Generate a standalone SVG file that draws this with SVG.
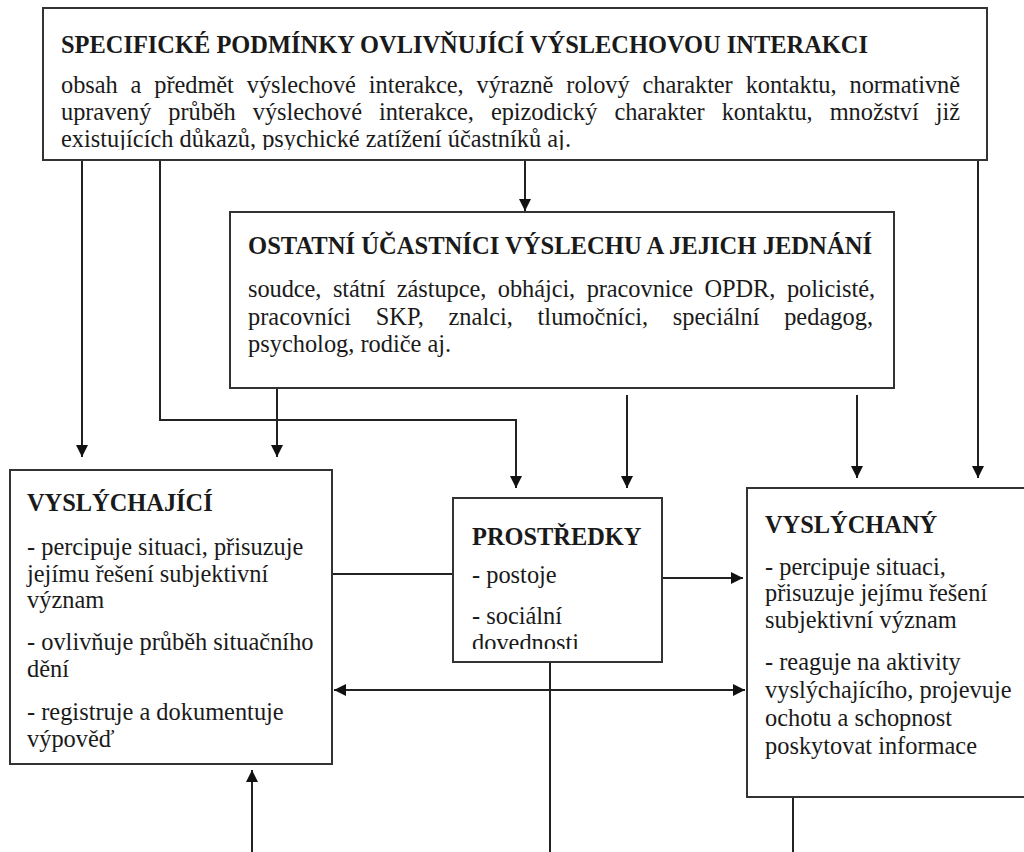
<svg xmlns="http://www.w3.org/2000/svg" width="1024" height="852" viewBox="0 0 1024 852">
<style>
.box{fill:#fff;stroke:#333;stroke-width:2}
.t{font-family:"Liberation Serif","Times New Roman",serif;font-size:24.4px;fill:#1a1a1a}
.b{font-weight:bold}
.c{fill:none;stroke:#222;stroke-width:2}
</style>
<defs>
<marker id="ah" markerUnits="userSpaceOnUse" markerWidth="12" markerHeight="14" viewBox="0 0 12 14" refX="12" refY="7" orient="auto-start-reverse">
<path d="M0,1 L12,7 L0,13 Z" fill="#111"/>
</marker>
<clipPath id="clipTop"><rect x="44" y="9" width="942" height="141"/></clipPath>
<clipPath id="clipPro"><rect x="454" y="499" width="207" height="150"/></clipPath>
</defs>
<rect width="1024" height="852" fill="#fff"/>

<g id="connectors">
<path class="c" d="M82,160 V457" marker-end="url(#ah)"/>
<path class="c" d="M160,160 V420 H516 V488" marker-end="url(#ah)"/>
<path class="c" d="M525,160 V211" marker-end="url(#ah)"/>
<path class="c" d="M978,160 V478" marker-end="url(#ah)"/>
<path class="c" d="M277,388 V457" marker-end="url(#ah)"/>
<path class="c" d="M627,395 V488" marker-end="url(#ah)"/>
<path class="c" d="M857,395 V478" marker-end="url(#ah)"/>
<path class="c" d="M332,574 H453"/>
<path class="c" d="M662,578 H743" marker-end="url(#ah)"/>
<path class="c" d="M334,690 H745" marker-start="url(#ah)" marker-end="url(#ah)"/>
<path class="c" d="M550,662 V852"/>
<path class="c" d="M793,797 V852"/>
<path class="c" d="M252,852 V770" marker-end="url(#ah)"/>
</g>

<g id="node-podminky">
<rect class="box" x="43" y="8" width="944" height="152"/>
<text class="t b" x="61" y="53" textLength="807" lengthAdjust="spacingAndGlyphs">SPECIFICKÉ PODMÍNKY OVLIVŇUJÍCÍ VÝSLECHOVOU INTERAKCI</text>
<g clip-path="url(#clipTop)">
<text class="t" x="61" y="93" word-spacing="7" textLength="899" lengthAdjust="spacing">obsah a předmět výslechové interakce, výrazně rolový charakter kontaktu, normativně</text>
<text class="t" x="61" y="120" word-spacing="11" textLength="899" lengthAdjust="spacing">upravený průběh výslechové interakce, epizodický charakter kontaktu, množství již</text>
<text class="t" x="61" y="147">existujících důkazů, psychické zatížení účastníků aj.</text>
</g>
</g>

<g id="node-ostatni">
<rect class="box" x="230" y="212" width="664" height="176"/>
<text class="t b" x="248" y="254" textLength="624" lengthAdjust="spacingAndGlyphs">OSTATNÍ ÚČASTNÍCI VÝSLECHU A JEJICH JEDNÁNÍ</text>
<text class="t" x="248" y="297" word-spacing="5.5" textLength="627" lengthAdjust="spacing">soudce, státní zástupce, obhájci, pracovnice OPDR, policisté,</text>
<text class="t" x="248" y="325" word-spacing="18.5" textLength="625" lengthAdjust="spacing">pracovníci SKP, znalci, tlumočníci, speciální pedagog,</text>
<text class="t" x="248" y="352">psycholog, rodiče aj.</text>
</g>

<g id="node-vyslychajici">
<rect class="box" x="10" y="470" width="322" height="294"/>
<text class="t b" x="27" y="511">VYSLÝCHAJÍCÍ</text>
<text class="t" x="27" y="555">- percipuje situaci, přisuzuje</text>
<text class="t" x="27" y="582">jejímu řešení subjektivní</text>
<text class="t" x="27" y="608">význam</text>
<text class="t" x="27" y="650">- ovlivňuje průběh situačního</text>
<text class="t" x="27" y="677">dění</text>
<text class="t" x="27" y="720">- registruje a dokumentuje</text>
<text class="t" x="27" y="747">výpověď</text>
</g>

<g id="node-prostredky">
<rect class="box" x="453" y="498" width="209" height="164"/>
<text class="t b" x="472" y="545">PROSTŘEDKY</text>
<g clip-path="url(#clipPro)">
<text class="t" x="472" y="583">- postoje</text>
<text class="t" x="472" y="624">- sociální</text>
<text class="t" x="472" y="651">dovednosti</text>
</g>
</g>

<g id="node-vyslychany">
<rect class="box" x="747" y="488" width="290" height="309"/>
<text class="t b" x="765" y="533">VYSLÝCHANÝ</text>
<text class="t" x="765" y="575">- percipuje situaci,</text>
<text class="t" x="765" y="601">přisuzuje jejímu řešení</text>
<text class="t" x="765" y="628">subjektivní význam</text>
<text class="t" x="765" y="670">- reaguje na aktivity</text>
<text class="t" x="765" y="698">vyslýchajícího, projevuje</text>
<text class="t" x="765" y="726">ochotu a schopnost</text>
<text class="t" x="765" y="754">poskytovat informace</text>
</g>
</svg>
